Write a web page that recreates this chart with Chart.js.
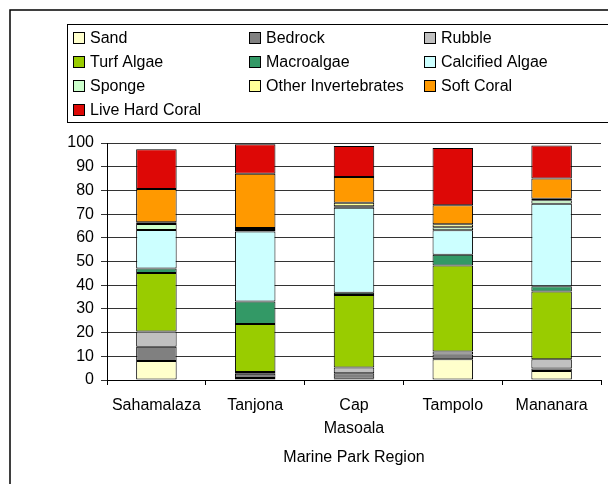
<!DOCTYPE html>
<html>
<head>
<meta charset="utf-8">
<script src="https://cdn.jsdelivr.net/npm/chart.js@4.4.1/dist/chart.umd.min.js"></script>
<style>
  html, body { margin: 0; padding: 0; background: #fff; }
  #wrap { width: 608px; height: 484px; }
</style>
</head>
<body>
<div id="wrap"><canvas id="c" width="608" height="484"></canvas></div>
<script>
// Benthic cover (%) by marine park region
const regions = ['Sahamalaza', 'Tanjona', ['Cap', 'Masoala'], 'Tampolo', 'Mananara'];

const sand            = [8.0, 0.8, 0.5, 8.8, 3.8];
const bedrock         = [6.0, 1.8, 2.3, 2.0, 1.1];
const rubble          = [6.5, 0.8, 2.5, 1.2, 3.9];
const turfAlgae       = [24.7, 20.2, 30.6, 36.3, 28.5];
const macroalgae      = [1.8, 9.5, 0.9, 4.6, 2.3];
const calcifiedAlgae  = [16.3, 29.6, 35.9, 10.3, 34.8];
const sponge          = [2.5, 0.6, 0.6, 1.2, 1.4];
const otherInverts    = [0.8, 0.8, 1.5, 1.3, 0.7];
const softCoral       = [14.0, 22.9, 10.9, 8.0, 8.5];
const liveHardCoral   = [16.8, 12.5, 13.0, 24.2, 13.9];

const yTicks = [0, 10, 20, 30, 40, 50, 60, 70, 80, 90, 100];

const series = [
  { label: 'Sand', data: sand, color: '#FFFFCC' },
  { label: 'Bedrock', data: bedrock, color: '#808080' },
  { label: 'Rubble', data: rubble, color: '#C0C0C0' },
  { label: 'Turf Algae', data: turfAlgae, color: '#99CC00' },
  { label: 'Macroalgae', data: macroalgae, color: '#339966' },
  { label: 'Calcified Algae', data: calcifiedAlgae, color: '#CCFFFF' },
  { label: 'Sponge', data: sponge, color: '#CCFFCC' },
  { label: 'Other Invertebrates', data: otherInverts, color: '#FFFF99' },
  { label: 'Soft Coral', data: softCoral, color: '#FF9900' },
  { label: 'Live Hard Coral', data: liveHardCoral, color: '#DD0806' }
];

const FONT = 'Arial, "Liberation Sans", sans-serif';

// White page, outer frame and the boxed three-column legend
const framePlugin = {
  id: 'frame',
  beforeDraw(chart) {
    const ctx = chart.ctx;
    ctx.save();
    ctx.fillStyle = '#fff';
    ctx.fillRect(0, 0, chart.width, chart.height);
    ctx.strokeStyle = '#000';
    ctx.lineWidth = 1.5;
    ctx.strokeRect(10, 10, chart.width + 20, chart.height + 20);
    ctx.restore();
  },
  afterDraw(chart) {
    const ctx = chart.ctx;
    ctx.save();
    ctx.strokeStyle = '#000';
    ctx.lineWidth = 1;
    ctx.strokeRect(67.5, 24.5, chart.width, 98);
    const colX = [73, 249, 424];
    const rowY = [38, 62, 86, 110];
    ctx.font = '16px ' + FONT;
    ctx.textBaseline = 'middle';
    ctx.textAlign = 'left';
    chart.data.datasets.forEach((ds, i) => {
      const x = colX[i % 3];
      const y = rowY[Math.floor(i / 3)];
      ctx.fillStyle = ds.backgroundColor;
      ctx.fillRect(x, y - 6, 12, 12);
      ctx.strokeStyle = '#000';
      ctx.strokeRect(x + 0.5, y - 5.5, 11, 11);
      ctx.fillStyle = '#000';
      ctx.fillText(ds.label, x + 17, y + 1);
    });
    ctx.restore();
  }
};

new Chart(document.getElementById('c'), {
  type: 'bar',
  data: {
    labels: regions,
    datasets: series.map(s => ({
      label: s.label,
      data: s.data,
      backgroundColor: s.color,
      borderColor: '#000',
      borderWidth: 1,
      borderSkipped: false,
      categoryPercentage: 1.0,
      barPercentage: 0.41
    }))
  },
  options: {
    responsive: false,
    devicePixelRatio: 1,
    animation: false,
    layout: { padding: { left: 0, top: 143, right: 7, bottom: 0 } },
    plugins: { legend: { display: false }, tooltip: { enabled: false } },
    scales: {
      x: {
        stacked: true,
        afterFit(scale) { scale.height = 104; },
        border: { display: true, color: '#000', width: 1 },
        grid: { display: true, drawOnChartArea: false, drawTicks: true, tickLength: 5, offset: true, color: '#000' },
        ticks: { color: '#000', padding: 9, maxRotation: 0, autoSkip: false,
                 font: { family: FONT, size: 16, lineHeight: 1.45 } },
        title: { display: true, text: 'Marine Park Region', color: '#000',
                 padding: { top: 0, bottom: 17 },
                 font: { family: FONT, size: 16 } }
      },
      y: {
        stacked: true,
        min: 0,
        max: 100,
        afterFit(scale) { scale.width = 107; },
        afterBuildTicks(scale) { scale.ticks = yTicks.map(v => ({ value: v })); },
        border: { display: true, color: '#000', width: 1 },
        grid: { color: '#333', lineWidth: 1, tickLength: 6, drawTicks: true },
        ticks: { color: '#000', padding: 7, font: { family: FONT, size: 16 } }
      }
    }
  },
  plugins: [framePlugin]
});
</script>
</body>
</html>
